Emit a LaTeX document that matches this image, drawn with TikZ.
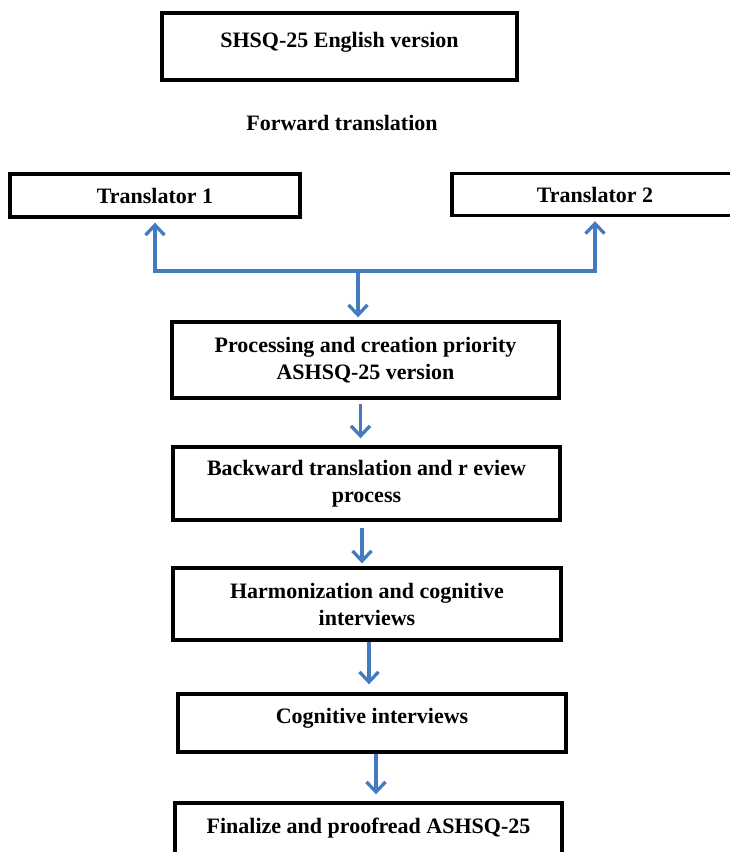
\documentclass[tikz,border=0pt]{standalone}
\usepackage{fontspec}
\setmainfont{Liberation Serif}
\usetikzlibrary{arrows.meta}

\definecolor{arrowblue}{RGB}{68,122,192}

\tikzstyle{every node}=[font=\fontsize{22pt}{27pt}\selectfont\bfseries]
\tikzstyle{box}=[draw, line width=3.4pt, align=center, inner sep=0pt]
\tikzstyle{flow}=[draw=arrowblue, line width=3.3pt, -{Straight Barb[length=10pt,width=19pt]}]

\begin{document}
\begin{tikzpicture}[x=1pt,y=-1pt]
	% Frame of the page
	\useasboundingbox (0,0) rectangle (730,852);
	\clip (0,0) rectangle (730,852);

	% Source questionnaire
	\node[box, minimum width=355pt, minimum height=67pt, text depth=14pt] (eng) at (339.5,46.5) {SHSQ-25 English version};
	\node (fwd) at (342,123) {Forward translation};

	% Translators
	\node[box, minimum width=290pt, minimum height=43pt] (tr1) at (155,195.5) {Translator 1};
	\node[box, minimum width=286pt, minimum height=42pt] (tr2) at (595,194.5) {Translator 2};

	% Steps
	\node[box, minimum width=387pt, minimum height=76pt] (proc) at (365.5,360) {Processing and creation priority\\ASHSQ-25 version};
	\node[box, minimum width=387pt, minimum height=73pt] (back) at (366.5,483.5) {Backward translation and r eview\\process};
	\node[box, minimum width=388pt, minimum height=72pt] (harm) at (367,604) {Harmonization and cognitive\\interviews};
	\node[box, minimum width=388pt, minimum height=58pt, text depth=14pt] (cogn) at (372,723) {Cognitive interviews};
	\node[box, minimum width=387pt, minimum height=60pt, text depth=14pt] (fin) at (368.5,833) {Finalize and proofread ASHSQ-25};

	% Branching to the translators
	\coordinate (split) at (358,271);
	\draw[flow, shorten >=4pt] (split) -| (tr1);
	\draw[flow, shorten >=4pt] (split) -| (tr2);
	\draw[flow, shorten >=3pt] (split) -- (split |- proc.north);

	% Arrows between the steps
	\draw[flow, shorten <=4pt, shorten >=7pt] ([xshift=-5pt]proc.south) -- ([xshift=-5pt]proc.south |- back.north);
	\draw[flow, shorten <=6pt, shorten >=3pt] ([xshift=-4.5pt]back.south) -- ([xshift=-4.5pt]back.south |- harm.north);
	\draw[flow, shorten >=8pt] ([xshift=2pt]harm.south) -- ([xshift=2pt]harm.south |- cogn.north);
	\draw[flow, shorten >=7pt] ([xshift=4pt]cogn.south) -- ([xshift=4pt]cogn.south |- fin.north);
\end{tikzpicture}
\end{document}
